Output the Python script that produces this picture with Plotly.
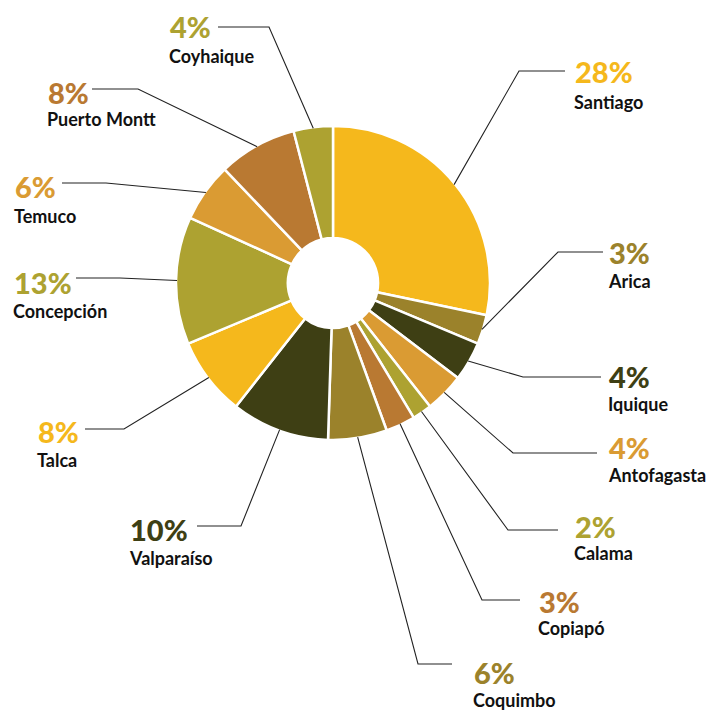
import math
import plotly.graph_objects as go

# ---- data ----
cities = ["Santiago", "Arica", "Iquique", "Antofagasta", "Calama", "Copiapó",
          "Coquimbo", "Valparaíso", "Talca", "Concepción", "Temuco",
          "Puerto Montt", "Coyhaique"]
shares = [28, 3, 4, 4, 2, 3, 6, 10, 8, 13, 6, 8, 4]
colors = ["#F5B81C", "#9B822B", "#3E3F14", "#DA9B33", "#ADA231", "#B97932",
          "#9B822B", "#3E3F14", "#F5B81C", "#ADA231", "#DA9B33", "#B97932",
          "#ADA231"]

# ---- layout (pixels) ----
W, H = 712, 711
CX, CY, R = 333, 283, 157
HOLE = 0.287

# label layout: elbow x, elbow y, line end x, text x, pct y, name y
label_layout = [
    (519, 71, 565, 573, 73, 102),
    (558, 252, 603, 607, 254, 281),
    (523, 377, 601, 607, 377, 404),
    (513, 453, 597, 607, 448, 475),
    (508, 530, 558, 573, 527, 553),
    (482, 600, 520, 537, 602, 628),
    (418, 664, 452, 472, 673, 700),
    (241, 526, 197, 128, 530, 558),
    (124, 429, 85, 36, 432, 460),
    (120, 278, 76, 12, 283, 311),
    (106, 183, 62, 13, 188, 216),
    (138, 89, 92, 46, 93, 119),
    (269, 27, 218, 168, 28, 56),
]


def px(x):
    return x / W


def py(y):
    return 1 - y / H


fig = go.Figure(go.Pie(
    labels=cities, values=shares, sort=False, direction="clockwise",
    rotation=0, hole=HOLE, textinfo="none", hoverinfo="label+percent",
    marker=dict(colors=colors, line=dict(color="white", width=2.5)),
    domain=dict(x=[px(CX - R), px(CX + R)], y=[py(CY + R), py(CY - R)]),
    showlegend=False,
))

total = sum(shares)
shapes = []
annotations = []
cum = 0
for city, val, col, lay in zip(cities, shares, colors, label_layout):
    mid = (cum + val / 2) / total * 2 * math.pi
    cum += val
    sx = CX + (R - 1) * math.sin(mid)
    sy = CY - (R - 1) * math.cos(mid)
    ex, ey, hx, tx, pcy, ny = lay
    shapes.append(dict(
        type="path", xref="paper", yref="paper",
        path=f"M {px(sx)} {py(sy)} L {px(ex)} {py(ey)} L {px(hx)} {py(ey)}",
        line=dict(color="#222222", width=1.1),
    ))
    annotations.append(dict(
        x=px(tx), y=py(pcy - 1), xref="paper", yref="paper", xanchor="left",
        yanchor="middle", showarrow=False, text=f"{val}%",
        font=dict(family="Lato", size=29, color=col, weight=900),
    ))
    annotations.append(dict(
        x=px(tx - 1), y=py(ny), xref="paper", yref="paper", xanchor="left",
        yanchor="middle", showarrow=False, text=city,
        font=dict(family="Lato", size=18, color="#111111", weight=700),
    ))

fig.update_layout(
    width=W, height=H, margin=dict(l=0, r=0, t=0, b=0),
    paper_bgcolor="white", plot_bgcolor="white",
    shapes=shapes, annotations=annotations,
)

fig.write_html(
    "out.html",
    config={"displayModeBar": False},
    post_script="document.body.style.margin='0';document.body.style.overflow='hidden';",
)
